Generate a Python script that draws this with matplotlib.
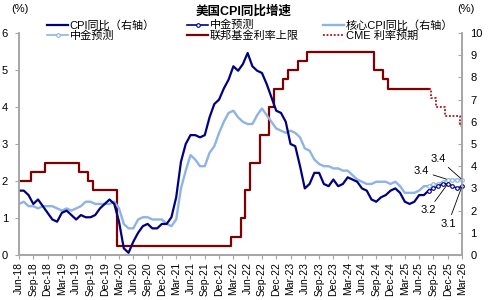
import matplotlib
matplotlib.use("Agg")
import matplotlib.pyplot as plt
import numpy as np
import pandas as pd

plt.rcParams["font.family"] = ["Liberation Sans", "Noto Sans CJK SC"]

# monthly, Jun-18 .. Mar-26
months = pd.date_range("2018-06-01", "2026-03-01", freq="MS")
month_labels = list(months.strftime("%b-%y"))

# actuals, Jun-18 .. Aug-25
cpi_yoy = [
    2.9, 2.9, 2.7, 2.3, 2.5, 2.2, 1.9,
    1.6, 1.5, 1.9, 2.0, 1.8, 1.6, 1.8, 1.7, 1.7, 1.8, 2.1, 2.3,
    2.5, 2.3, 1.5, 0.3, 0.1, 0.6, 1.0, 1.3, 1.4, 1.2, 1.2, 1.4,
    1.4, 1.7, 2.6, 4.2, 5.0, 5.4, 5.4, 5.3, 5.4, 6.2, 6.8, 7.0,
    7.5, 7.9, 8.5, 8.3, 8.6, 9.1, 8.5, 8.3, 8.2, 7.7, 7.1, 6.5,
    6.4, 6.0, 5.0, 4.9, 4.0, 3.0, 3.2, 3.7, 3.7, 3.2, 3.1, 3.4,
    3.1, 3.2, 3.5, 3.4, 3.3, 3.0, 2.9, 2.5, 2.4, 2.6, 2.7, 2.9,
    3.0, 2.8, 2.4, 2.3, 2.4, 2.7, 2.7, 2.9,
]
core_cpi_yoy = [
    2.3, 2.4, 2.2, 2.2, 2.1, 2.2, 2.2,
    2.2, 2.1, 2.0, 2.1, 2.0, 2.1, 2.2, 2.4, 2.4, 2.3, 2.3, 2.3,
    2.3, 2.4, 2.1, 1.4, 1.2, 1.2, 1.6, 1.7, 1.7, 1.6, 1.6, 1.6,
    1.4, 1.3, 1.6, 3.0, 3.8, 4.5, 4.3, 4.0, 4.0, 4.6, 4.9, 5.5,
    6.0, 6.4, 6.5, 6.2, 6.0, 5.9, 5.9, 6.3, 6.6, 6.3, 6.0, 5.7,
    5.6, 5.5, 5.6, 5.5, 5.3, 4.8, 4.7, 4.3, 4.1, 4.0, 4.0, 3.9,
    3.9, 3.8, 3.8, 3.6, 3.4, 3.3, 3.2, 3.2, 3.3, 3.3, 3.3, 3.2,
    3.3, 3.1, 2.8, 2.8, 2.8, 2.9, 3.1, 3.1,
]
fed_upper = [
    2.0, 2.0, 2.0, 2.25, 2.25, 2.25, 2.5,
    2.5, 2.5, 2.5, 2.5, 2.5, 2.5, 2.25, 2.25, 2.0, 1.75, 1.75, 1.75,
    1.75, 1.75, 0.25, 0.25, 0.25, 0.25, 0.25, 0.25, 0.25, 0.25, 0.25, 0.25,
    0.25, 0.25, 0.25, 0.25, 0.25, 0.25, 0.25, 0.25, 0.25, 0.25, 0.25, 0.25,
    0.25, 0.25, 0.5, 0.5, 1.0, 1.75, 2.5, 2.5, 3.25, 3.25, 4.0, 4.5,
    4.5, 4.75, 5.0, 5.0, 5.25, 5.25, 5.5, 5.5, 5.5, 5.5, 5.5, 5.5,
    5.5, 5.5, 5.5, 5.5, 5.5, 5.5, 5.5, 5.5, 5.0, 5.0, 4.75, 4.5,
    4.5, 4.5, 4.5, 4.5, 4.5, 4.5, 4.5, 4.5,
]
# forecasts, Aug-25 .. Mar-26
cpi_forecast = [2.9, 3.0, 3.1, 3.2, 3.2, 3.1, 3.0, 3.1]
core_forecast = [3.1, 3.2, 3.2, 3.3, 3.4, 3.4, 3.4, 3.4]
cme_path = [4.5, 4.25, 4.0, 4.0, 3.75, 3.75, 3.75, 3.5]

NAVY = "#000080"
LIGHT = "#8DB4E2"
RED = "#800000"
CME_RED = "#B01010"
GRAY = "#A6A6A6"

x_act = np.arange(len(cpi_yoy))
x_fc = np.arange(len(cpi_yoy) - 1, len(months))

fig = plt.figure(figsize=(4.88, 3.0), dpi=100)
ax = fig.add_axes([19 / 488, 45 / 300, 443 / 488, 222 / 300])
ax2 = ax.twinx()

# left axis: policy rate
h_fed, = ax.plot(x_act, fed_upper, color=RED, lw=1.6, drawstyle="steps-mid",
                 label="联邦基金利率上限")
h_cme, = ax.plot(x_fc, cme_path, color=CME_RED, lw=1.3, ls=(0, (1, 1)),
                 drawstyle="steps-mid", label="CME 利率预期", clip_on=False)

# right axis: CPI
h_core, = ax2.plot(x_act, core_cpi_yoy, color=LIGHT, lw=1.7, label="核心CPI同比（右轴）")
h_cpi, = ax2.plot(x_act, cpi_yoy, color=NAVY, lw=1.6, label="CPI同比（右轴）")
h_core_fc, = ax2.plot(x_fc, core_forecast, color=LIGHT, lw=1.2, marker="o", ms=2.6,
                      mfc="white", mec=LIGHT, mew=0.8, label="中金预测", clip_on=False)
h_cpi_fc, = ax2.plot(x_fc, cpi_forecast, color=NAVY, lw=1.2, marker="o", ms=2.6,
                     mfc="white", mec=NAVY, mew=0.8, label="中金预测", clip_on=False)

ax.set_xlim(0, len(months) - 1)
ax.set_ylim(0, 6)
ax2.set_ylim(0, 10)
ax.set_yticks(range(0, 7))
ax2.set_yticks(range(0, 11))
ax.set_xticks(range(0, len(months), 3))
ax.set_xticklabels(month_labels[::3], rotation=90, fontsize=7.5)

for a in (ax, ax2):
    a.spines["top"].set_visible(False)
    for s in ("left", "right", "bottom"):
        a.spines[s].set_color(GRAY)
        a.spines[s].set_linewidth(1.2)
ax.tick_params(axis="y", direction="out", length=3, color=GRAY, labelsize=8, pad=5)
ax2.tick_params(axis="y", direction="in", length=3, color=GRAY, labelsize=8, pad=6)
ax.tick_params(axis="x", direction="out", length=3, color=GRAY, pad=2)

# data labels
lab = dict(textcoords="offset points", ha="center", va="center", fontsize=8,
           arrowprops=dict(arrowstyle="-", color="black", lw=0.6, shrinkA=1, shrinkB=1))
ax2.annotate(f"{core_forecast[-1]:.1f}", xy=(x_fc[-1], core_forecast[-1]), xytext=(-17, 15), **lab)
ax2.annotate(f"{core_forecast[4]:.1f}", xy=(x_fc[4], core_forecast[4]), xytext=(-19, 6), **lab)
ax2.annotate(f"{cpi_forecast[4]:.1f}", xy=(x_fc[4], cpi_forecast[4]), xytext=(-14, -19), **lab)
ax2.annotate(f"{cpi_forecast[-1]:.1f}", xy=(x_fc[-1], cpi_forecast[-1]), xytext=(-10, -27), **lab)

# legend in three columns above the plot
leg_kw = dict(frameon=False, fontsize=8, handlelength=1.9, handletextpad=0.15,
              labelspacing=0.0, borderpad=0, borderaxespad=0, loc="center left")
cols = [([h_cpi, h_core_fc], 47), ([h_cpi_fc, h_fed], 187), ([h_core, h_cme], 323)]
for handles, px in cols:
    fig.legend(handles=handles, labels=[h.get_label() for h in handles],
               bbox_to_anchor=(px / 488, 1 - 30.5 / 300), **leg_kw)

fig.text(244 / 488, 1 - 11 / 300, "美国CPI同比增速", ha="center", va="center",
         fontsize=9, fontweight="bold")
fig.text(20 / 488, 1 - 9 / 300, "(%)", ha="center", va="center", fontsize=8)
fig.text(466 / 488, 1 - 9 / 300, "(%)", ha="center", va="center", fontsize=8)

fig.savefig("out.png", dpi=100)
